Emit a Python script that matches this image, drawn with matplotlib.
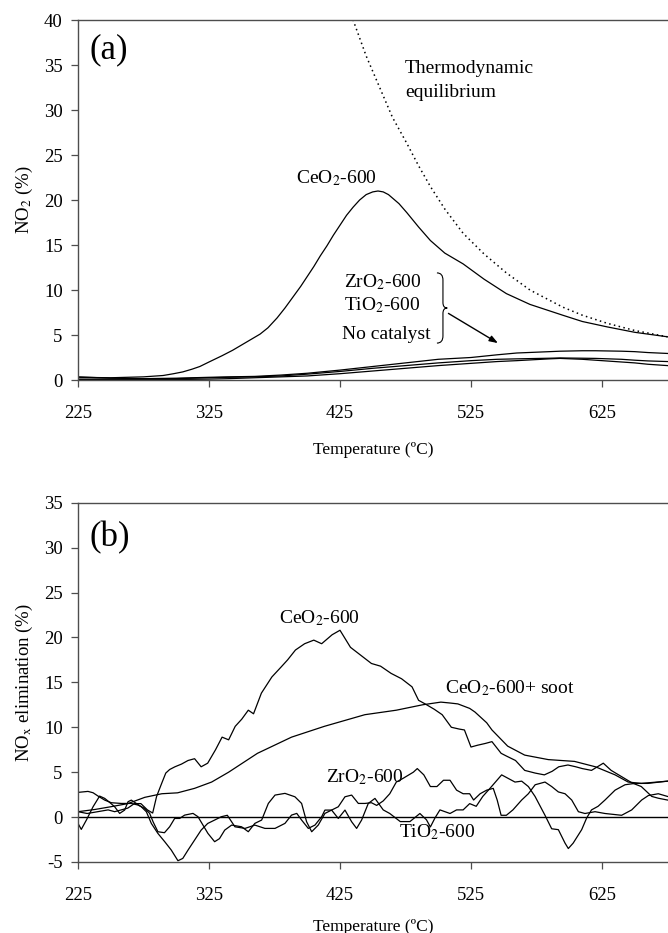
import numpy as np
import matplotlib
matplotlib.use("Agg")
import matplotlib.pyplot as plt
from matplotlib.path import Path
from matplotlib.patches import PathPatch

plt.rcParams['font.family'] = ['Liberation Serif', 'DejaVu Serif']
plt.rcParams['mathtext.fontset'] = 'stix'
plt.rcParams['axes.unicode_minus'] = False

# ---------------- panel (a): NO2 (%) ----------------
t_ceo2_a = [225, 250, 275, 290, 298, 305, 312, 318, 325, 335, 343, 350, 357, 364, 370, 377, 383,
            389, 395, 400, 405, 410, 415, 420, 425, 430, 435, 440, 445, 450, 454, 458, 462, 466,
            470, 476, 485, 494, 505, 519, 535, 552, 570, 595, 610, 629, 650, 675]
v_ceo2_a = [0.3, 0.25, 0.35, 0.5, 0.7, 0.9, 1.2, 1.5, 2.0, 2.7, 3.3, 3.9, 4.5, 5.1, 5.8, 6.9, 8.0,
            9.2, 10.4, 11.5, 12.6, 13.8, 14.9, 16.1, 17.2, 18.3, 19.2, 20.0, 20.6, 20.9, 21.0, 20.9, 20.6, 20.1,
            19.6, 18.6, 17.0, 15.5, 14.1, 12.9, 11.2, 9.6, 8.4, 7.2, 6.5, 5.9, 5.3, 4.8]

t_eq = [430, 435, 445, 455, 465, 476, 485, 494, 505, 519, 535, 552, 570, 595, 610, 629, 650, 675]
v_eq = [41.5, 40.0, 36.0, 32.6, 29.2, 26.3, 23.8, 21.5, 19.0, 16.3, 14.0, 11.9, 10.0, 8.1, 7.2, 6.3, 5.5, 4.8]

t_low_a = [225, 250, 275, 300, 325, 340, 360, 380, 400, 425, 450, 475, 500, 525, 545, 560, 585,
           593, 610, 620, 640, 650, 660, 675]
v_zro2_a = [0.35, 0.2, 0.15, 0.2, 0.3, 0.35, 0.4, 0.55, 0.75, 1.1, 1.5, 1.9, 2.3, 2.5, 2.8, 3.0, 3.15,
            3.2, 3.25, 3.25, 3.2, 3.15, 3.05, 2.95]
v_tio2_a = [0.1, 0.1, 0.1, 0.15, 0.25, 0.3, 0.35, 0.45, 0.65, 0.95, 1.3, 1.6, 1.9, 2.15, 2.3, 2.35, 2.42,
            2.45, 2.42, 2.4, 2.3, 2.2, 2.12, 2.05]
v_nocat_a = [0.05, 0.05, 0.05, 0.05, 0.1, 0.15, 0.25, 0.35, 0.45, 0.7, 1.0, 1.3, 1.6, 1.85, 2.05, 2.15, 2.35,
             2.4, 2.3, 2.2, 2.0, 1.9, 1.75, 1.6]

# ---------------- panel (b): NOx elimination (%) ----------------
t_ceo2_b = [225, 232, 240, 248, 253, 258, 263, 268, 273, 278, 282, 285, 289, 292, 295, 299, 304,
            309, 314, 319, 324, 330, 335, 340, 345, 350, 355, 359, 365, 373, 380, 385, 391, 398,
            405, 411, 419, 425, 433, 441, 449, 456, 464, 472, 480, 485, 490, 497, 503, 510, 516,
            520, 525, 530, 536, 541, 548, 552, 559, 566, 574, 581, 587, 592, 599, 605, 610, 617,
            626, 632, 640, 648, 655, 663, 668, 675]
v_ceo2_b = [0.6, 0.4, 0.6, 0.8, 0.6, 0.8, 1.0, 1.5, 1.5, 0.8, 0.45, 2.3, 3.8, 4.9, 5.3, 5.6, 5.9,
            6.3, 6.5, 5.6, 6.0, 7.5, 8.9, 8.6, 10.1, 10.9, 11.9, 11.5, 13.8, 15.6, 16.7, 17.5, 18.6, 19.3,
            19.7, 19.3, 20.3, 20.8, 18.9, 18.0, 17.1, 16.8, 16.0, 15.4, 14.5, 13.0, 12.6, 12.0, 11.4, 10.0, 9.8,
            9.7, 7.8, 8.0, 8.2, 8.4, 7.1, 6.8, 6.3, 5.2, 4.9, 4.7, 5.1, 5.6, 5.8, 5.6, 5.4, 5.2,
            6.0, 5.2, 4.5, 3.8, 3.4, 2.3, 2.1, 1.9]

t_soot_b = [225, 238, 250, 263, 276, 289, 301, 314, 327, 340, 362, 388, 413, 444, 468, 488, 502,
            509, 515, 524, 528, 537, 541, 553, 566, 584, 604, 620, 635, 645, 655, 675]
v_soot_b = [0.6, 0.85, 1.15, 1.5, 2.2, 2.6, 2.7, 3.2, 3.9, 5.0, 7.1, 8.9, 10.1, 11.4, 11.9, 12.5, 12.8,
            12.7, 12.6, 12.1, 11.7, 10.5, 9.7, 7.9, 6.9, 6.4, 6.2, 5.6, 4.7, 3.9, 3.75, 4.0]

t_zro2_b = [225, 232.6, 236.5, 240.3, 245.4, 250.4, 258, 265.7, 270.8, 275.9, 279.7, 282.3, 286, 291,
            295, 298.8, 302.6, 306.4, 312.8, 316.6, 320.4, 324.2, 329.3, 333, 337, 342.3, 349.9, 355,
            360, 365.2, 370.3, 375.4, 383, 390.6, 395.7, 399.5, 403.4, 408.4, 413.5, 418.6, 423.7,
            428.8, 433.9, 439, 444, 449, 453, 458, 463, 468, 473, 481, 484, 489, 494, 499, 504, 509,
            514, 519, 524, 527, 532, 537, 542, 545, 548, 552, 557, 563.7, 568.8, 574, 581.5, 586.6,
            591.7, 596.8, 601.9, 607, 612, 619.7, 627.3, 640, 647.7, 655.3, 660.4, 668, 675]
v_zro2_b = [2.75, 2.86, 2.71, 2.34, 1.89, 1.6, 1.52, 1.52, 1.34, 0.97, 0.41, -0.52, -1.63, -1.74,
            -1.07, -0.15, -0.15, 0.22, 0.41, 0.04, -0.89, -1.82, -2.74, -2.4, -1.45, -0.89, -1.08, -1.63,
            -0.7, -0.33, 1.52, 2.45, 2.64, 2.26, 1.52, -0.52, -1.63, -0.89, 0.41, 0.78, 1.15,
            2.26, 2.45, 1.52, 1.52, 1.6, 1.3, 1.8, 2.6, 3.9, 4.3, 5.0, 5.4, 4.7, 3.4, 3.4, 4.1, 4.1,
            3.0, 2.6, 2.6, 1.9, 2.6, 3.0, 3.2, 1.9, 0.2, 0.2, 0.8, 1.9, 2.6, 3.6, 3.9, 3.4,
            2.8, 2.6, 1.9, 0.6, 0.4, 0.6, 0.4, 0.2, 0.8, 1.9, 2.4, 2.6, 2.3]

t_tio2_b = [225, 227.5, 231.4, 236.5, 241.5, 245.4, 249.2, 253, 256.8, 260.6, 263.2, 265.7, 269.5,
            273.3, 277.2, 281, 286, 291.2, 296.2, 301.3, 305, 309, 314, 319, 324, 329.3, 334.4, 339,
            344.8, 352.5, 360, 367.7, 375.4, 383, 388, 392, 395.7, 400.8, 405.9, 411, 413.5, 418.6,
            423.7, 428.8, 433.9, 437.7, 441.5, 446.6, 451.7, 458, 463, 471, 478.4, 486, 491, 494,
            497.5, 501.3, 509, 514, 519, 524, 529, 534, 539.5, 548.4, 558.6, 563.7, 568.8, 573.9,
            581.5, 586.6, 591.7, 596.8, 599.3, 603, 609.5, 613.3, 617, 622, 627.3, 635, 642.6, 650,
            660, 675]
v_tio2_b = [-0.7, -1.37, -0.33, 1.15, 2.34, 2.08, 1.63, 1.15, 0.41, 0.78, 1.71, 1.89, 1.52,
            1.15, 0.59, -0.71, -1.82, -2.74, -3.67, -4.86, -4.6, -3.67, -2.56, -1.45, -0.71, -0.33, 0.04, 0.2,
            -1.08, -1.26, -0.89, -1.26, -1.26, -0.7, 0.22, 0.41, -0.33, -1.26, -0.89, 0.04, 0.78, 0.78,
            -0.15, 0.78, -0.52, -1.26, -0.33, 1.52, 2.08, 0.8, 0.4, -0.5, -0.5, 0.4, -0.3, -1.1,
            -0.1, 0.8, 0.4, 0.8, 0.8, 1.5, 1.2, 2.3, 3.2, 4.7, 3.9, 4.0, 3.4, 2.3,
            0.2, -1.3, -1.4, -2.9, -3.5, -2.9, -1.4, -0.1, 0.8, 1.2, 1.9, 3.0, 3.6, 3.75,
            3.75, 4.0]

x_ticks = [225, 325, 425, 525, 625]
xmin, xmax = 225, 675.4

fig = plt.figure(figsize=(6.68, 9.33), dpi=100)
ax1 = fig.add_axes([78 / 668, 1 - 380 / 933, 590 / 668, 360 / 933])
ax2 = fig.add_axes([78 / 668, 1 - 862 / 933, 590 / 668, 359.3 / 933])

lw = 0.9
ax1.plot(t_ceo2_a, v_ceo2_a, color='black', lw=lw)
ax1.plot(t_eq, v_eq, color='black', lw=1.1, ls=(0, (1, 2.2)))
ax1.plot(t_low_a, v_zro2_a, color='black', lw=lw)
ax1.plot(t_low_a, v_tio2_a, color='black', lw=lw)
ax1.plot(t_low_a, v_nocat_a, color='black', lw=lw)

ax2.axhline(0, color='black', lw=1.0)
ax2.plot(t_ceo2_b, v_ceo2_b, color='black', lw=lw)
ax2.plot(t_soot_b, v_soot_b, color='black', lw=lw)
ax2.plot(t_zro2_b, v_zro2_b, color='black', lw=lw)
ax2.plot(t_tio2_b, v_tio2_b, color='black', lw=lw)

for ax, (lo, hi) in ((ax1, (0, 40)), (ax2, (-5, 35))):
    ax.set_xlim(xmin, xmax)
    ax.set_ylim(lo, hi)
    ax.set_xticks(x_ticks)
    ax.set_yticks(np.arange(lo, hi + 1, 5))
    ax.spines['right'].set_visible(False)
    for s in ('left', 'bottom', 'top'):
        ax.spines[s].set_color('0.3')
        ax.spines[s].set_linewidth(1.0)
    ax.tick_params(axis='x', direction='out', length=5, width=0.9, color='0.3',
                   labelsize=13.5, pad=13)
    ax.tick_params(axis='y', direction='out', length=5, width=0.9, color='0.3',
                   labelsize=13.5, pad=6)
    ax.set_xlabel('Temperature (ºC)', fontsize=12.5)

ax1.xaxis.set_label_coords(0.5, -0.172)
ax2.xaxis.set_label_coords(0.5, -0.158)
ax1.set_ylabel('NO$_2$ (%)', fontsize=13.5)
ax2.set_ylabel('NO$_{\\mathrm{x}}$ elimination (%)', fontsize=13.5)
ax1.yaxis.set_label_coords(-0.073, 0.5)
ax2.yaxis.set_label_coords(-0.073, 0.5)

fs = 14
# labels panel (a)
ax1.text(234, 36.7, '(a)', fontsize=25, va='center', ha='left')
ax1.text(422, 21.9, 'CeO$_2$-600', fontsize=fs, ha='center', va='baseline')
ax1.text(474.6, 34.1, 'Thermodynamic', fontsize=fs, ha='left', va='baseline')
ax1.text(474.6, 31.5, 'equilibrium', fontsize=fs, ha='left', va='baseline')
ax1.text(457.5, 10.35, 'ZrO$_2$-600', fontsize=fs, ha='center', va='baseline')
ax1.text(457.5, 7.8, 'TiO$_2$-600', fontsize=fs, ha='center', va='baseline')
ax1.text(460, 4.55, 'No catalyst', fontsize=fs, ha='center', va='baseline')

# curly brace
bx0, bx1, bx2 = 499.0, 503.6, 506.9
btop, bbot, bmid = 11.9, 4.1, 8.0
verts = [(bx0, btop), (bx1, btop), (bx1, btop - 0.8),
         (bx1, bmid + 0.6), (bx1, bmid), (bx2, bmid),
         (bx1, bmid), (bx1, bmid - 0.6),
         (bx1, bbot + 0.8), (bx1, bbot), (bx0, bbot)]
codes = [Path.MOVETO, Path.CURVE3, Path.CURVE3,
         Path.LINETO, Path.CURVE3, Path.CURVE3,
         Path.CURVE3, Path.CURVE3,
         Path.LINETO, Path.CURVE3, Path.CURVE3]
ax1.add_patch(PathPatch(Path(verts, codes), fill=False, lw=0.8, color='black'))
ax1.annotate('', xy=(545.6, 4.1), xytext=(507.8, 7.4),
             arrowprops=dict(arrowstyle='-|>,head_length=0.5,head_width=0.18',
                             color='black', lw=1.0, shrinkA=0, shrinkB=0))

# labels panel (b)
ax2.text(234, 31.1, '(b)', fontsize=25, va='center', ha='left')
ax2.text(409, 21.6, 'CeO$_2$-600', fontsize=fs, ha='center', va='baseline')
ax2.text(505, 13.8, 'CeO$_2$-600+ soot', fontsize=fs, ha='left', va='baseline')
ax2.text(444, 3.9, 'ZrO$_2$-600', fontsize=fs, ha='center', va='baseline')
ax2.text(499.4, -2.3, 'TiO$_2$-600', fontsize=fs, ha='center', va='baseline')

fig.savefig('out.png', dpi=100)
